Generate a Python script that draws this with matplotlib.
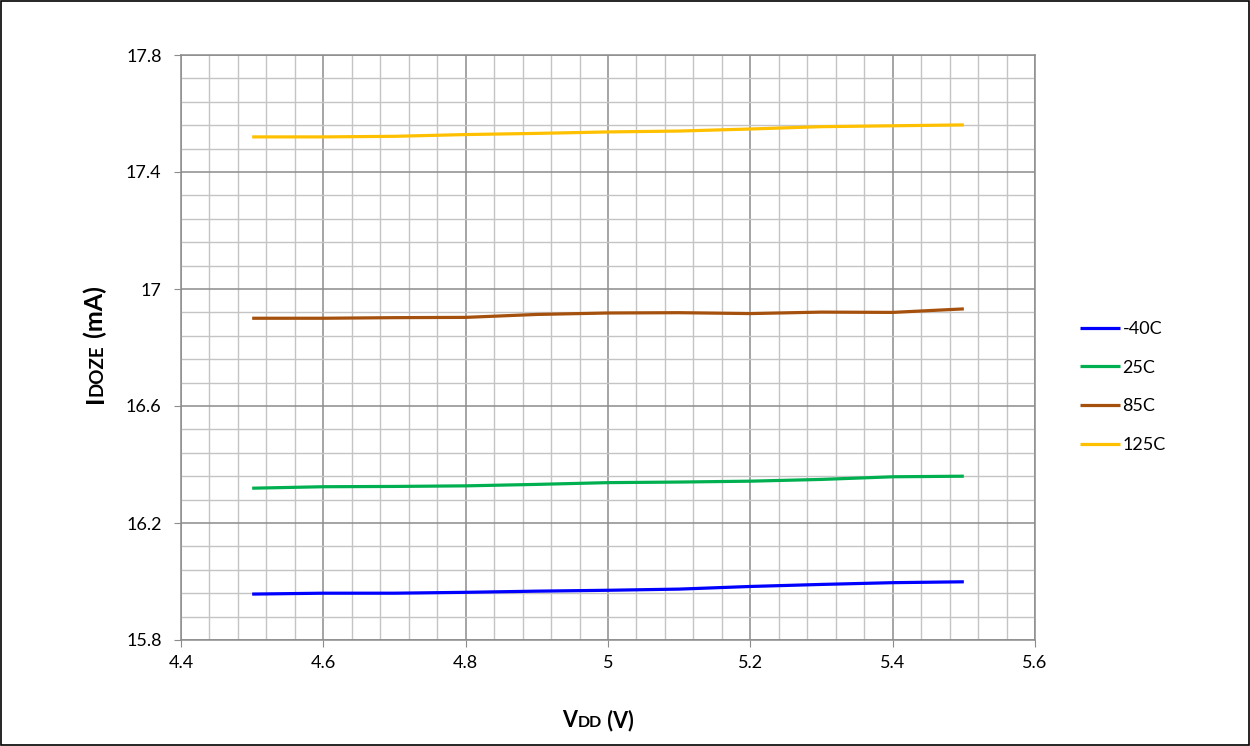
import matplotlib
matplotlib.use("Agg")
import numpy as np
import matplotlib.pyplot as plt
import matplotlib.patches as mpatches
from matplotlib.ticker import FixedLocator, FuncFormatter

vdd = [4.5, 4.6, 4.7, 4.8, 4.9, 5.0, 5.1, 5.2, 5.3, 5.4, 5.5]
i_m40 = [15.957, 15.960, 15.960, 15.963, 15.967, 15.970, 15.974, 15.983, 15.990, 15.996, 15.999]
i_25 = [16.319, 16.324, 16.325, 16.327, 16.332, 16.338, 16.340, 16.343, 16.349, 16.358, 16.360]
i_85 = [16.900, 16.900, 16.902, 16.903, 16.913, 16.918, 16.919, 16.916, 16.921, 16.920, 16.932]
i_125 = [17.520, 17.520, 17.522, 17.528, 17.532, 17.537, 17.540, 17.547, 17.555, 17.558, 17.561]
series_labels = ["-40C", "25C", "85C", "125C"]
series_colors = ["#0000FF", "#00B050", "#A5500C", "#FFC000"]
x_ticks = [4.4, 4.6, 4.8, 5.0, 5.2, 5.4, 5.6]
y_ticks = [15.8, 16.2, 16.6, 17.0, 17.4, 17.8]

FONT = ["Lato", "DejaVu Sans"]
plt.rcParams['font.family'] = FONT

fig = plt.figure(figsize=(12.5, 7.46), dpi=100)
W, H = 1250, 746
ax = fig.add_axes([181 / W, 1 - 640 / H, (1035 - 181) / W, (640 - 55) / H])

for ys, lab, col in zip([i_m40, i_25, i_85, i_125], series_labels, series_colors):
    ax.plot(vdd, ys, color=col, lw=2.3, label=lab, solid_capstyle='butt')

ax.set_xlim(x_ticks[0], x_ticks[-1])
ax.set_ylim(y_ticks[0], y_ticks[-1])
ax.xaxis.set_major_locator(FixedLocator(x_ticks))
ax.yaxis.set_major_locator(FixedLocator(y_ticks))
ax.xaxis.set_minor_locator(FixedLocator(np.linspace(x_ticks[0], x_ticks[-1], 31)))
ax.yaxis.set_minor_locator(FixedLocator(np.linspace(y_ticks[0], y_ticks[-1], 26)))

def fmt(v, pos):
    s = ("%.1f" % v)
    if s.endswith(".0"):
        s = s[:-2]
    return s

ax.xaxis.set_major_formatter(FuncFormatter(fmt))
ax.yaxis.set_major_formatter(FuncFormatter(fmt))
ax.grid(which='major', color='#8c8c8c', lw=1.1)
ax.grid(which='minor', color='#c4c4c4', lw=1.0)
ax.set_axisbelow(True)
ax.tick_params(which='major', length=5, color='#8c8c8c', labelsize=13)
ax.tick_params(axis='y', which='major', pad=9)
ax.tick_params(axis='x', which='major', pad=6)
ax.tick_params(which='minor', length=0)
for s in ax.spines.values():
    s.set_color('#8c8c8c')
    s.set_linewidth(1.1)

fig.legend(loc='center left', bbox_to_anchor=(1080 / W, 1 - 387 / H), frameon=False,
           fontsize=13, handlelength=2.2, handletextpad=0.15, labelspacing=1.25,
           borderpad=0, borderaxespad=0)

# figure border
fig.patches.append(mpatches.Rectangle((0.0008, 0.0013), 0.9984, 0.9974, transform=fig.transFigure,
                                      fill=False, edgecolor='black', lw=1.2))

renderer = fig.canvas.get_renderer()

def text_width(s, size):
    t = fig.text(0, 0, s, fontsize=size, fontweight='bold')
    w = t.get_window_extent(renderer).width
    t.remove()
    return w

# x label: V DD (V)
parts_x = [("V", 15.5), ("DD", 11.5), (" (V)", 15.5)]
total = sum(text_width(s, sz) for s, sz in parts_x)
x0 = 598 - total / 2
yb = 1 - 727 / H
for s, sz in parts_x:
    fig.text(x0 / W, yb, s, fontsize=sz, fontweight='bold', ha='left', va='baseline')
    x0 += text_width(s, sz)

# y label: I DOZE (mA), rotated
parts_y = [("I", 18), ("DOZE", 13.5), (" (mA)", 18)]
total = sum(text_width(s, sz) for s, sz in parts_y)
y0 = (746 - 345) - total / 2
xb = 103
for s, sz in parts_y:
    fig.text(xb / W, y0 / H, s, fontsize=sz, fontweight='bold', rotation=90,
             rotation_mode='anchor', ha='left', va='baseline')
    y0 += text_width(s, sz)

fig.savefig("out.png", dpi=100)
